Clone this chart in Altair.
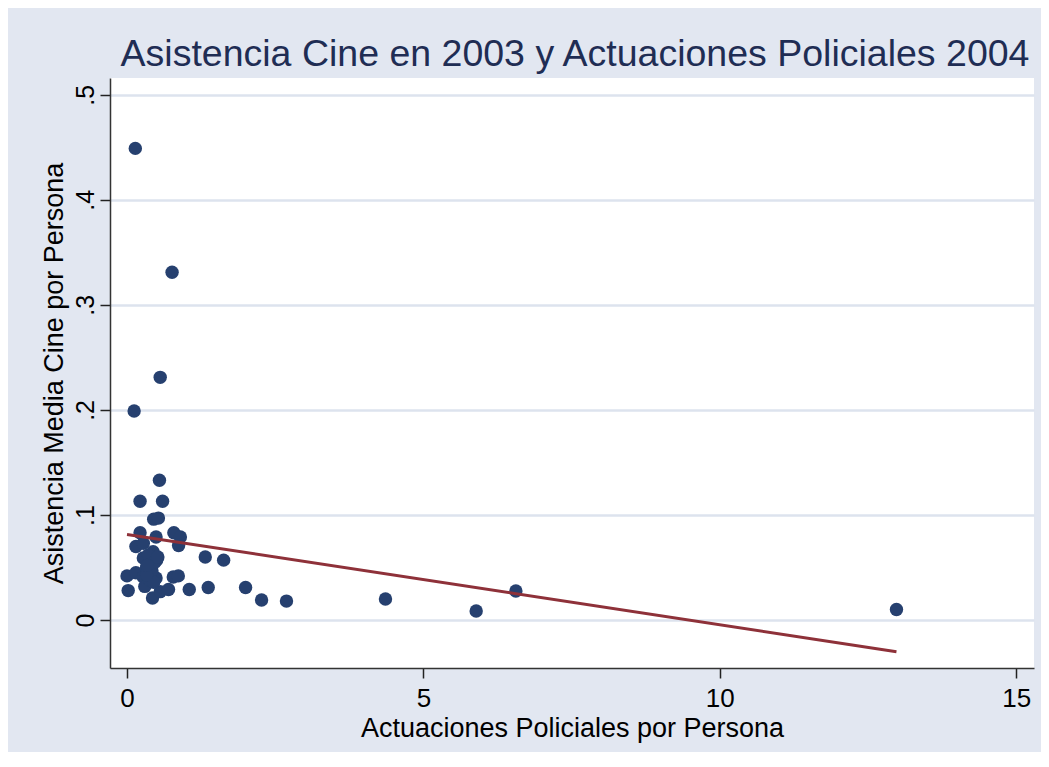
import altair as alt
import pandas as pd

actuaciones = [0.14, 0.76, 0.56, 0.12, 0.547, 0.22, 0.60, 0.45, 0.53, 0.22,
               0.49, 0.79, 0.90, 0.87, 0.15, 0.275, 0.275, 0.44, 0.50, 0.39,
               1.32, 1.63, 0.0, 0.15, 0.275, 0.39, 0.49, 0.78, 0.865, 0.02,
               0.30, 0.43, 0.56, 0.70, 1.05, 1.37, 2.00, 2.27, 2.69, 4.36,
               5.89, 6.56, 12.98,
               0.33, 0.36, 0.42, 0.47, 0.38, 0.45, 0.33, 0.52, 0.34]
asistencia = [0.449, 0.331, 0.231, 0.199, 0.133, 0.113, 0.113, 0.096, 0.097, 0.083,
              0.079, 0.083, 0.079, 0.071, 0.070, 0.073, 0.059, 0.065, 0.057, 0.054,
              0.060, 0.057, 0.042, 0.045, 0.041, 0.044, 0.040, 0.041, 0.042, 0.028,
              0.032, 0.021, 0.027, 0.029, 0.029, 0.031, 0.031, 0.019, 0.018, 0.020,
              0.0086, 0.0276, 0.010,
              0.050, 0.062, 0.047, 0.055, 0.038, 0.036, 0.043, 0.060, 0.052]

y_ticks = [0, 0.1, 0.2, 0.3, 0.4, 0.5]
x_ticks = [0, 5, 10, 15]

df = pd.DataFrame({"x": actuaciones, "y": asistencia})

FONT = "Liberation Sans"

xscale = alt.Scale(domain=[-0.287, 15.3], nice=False, zero=False)
yscale = alt.Scale(domain=[-0.0457, 0.516], nice=False, zero=False)

xaxis = alt.Axis(
    values=x_ticks, grid=False, format="d", title="Actuaciones Policiales por Persona",
    labelFontSize=26, titleFontSize=27, labelFont=FONT, titleFont=FONT,
    titleFontWeight="normal", labelColor="black", titleColor="black",
    tickSize=10, tickColor="#222222", domainColor="#333333", domainWidth=1.5,
    tickWidth=1.5, labelPadding=7, titleY=68, titleBaseline="alphabetic",
)
yaxis = alt.Axis(
    values=y_ticks, grid=True, gridColor="#DDE3EE", gridWidth=2.5,
    title="Asistencia Media Cine por Persona",
    labelExpr="datum.value == 0 ? '0' : replace(format(datum.value, '.1f'), '0.', '.')",
    labelFontSize=25, titleFontSize=27, labelFont=FONT, titleFont=FONT,
    titleFontWeight="normal", labelColor="black", titleColor="black",
    labelAngle=270, labelAlign="center", labelBaseline="bottom", labelPadding=2,
    tickSize=10, tickColor="#222222", domainColor="#333333", domainWidth=1.5,
    tickWidth=1.5, titleAngle=270, titleX=-48, titleY=295, titleAlign="center",
    titleBaseline="alphabetic",
)

base = alt.Chart(df)

points = base.mark_circle(size=180, opacity=1, color="#26406F").encode(
    x=alt.X("x:Q", scale=xscale, axis=xaxis),
    y=alt.Y("y:Q", scale=yscale, axis=yaxis),
)

fit = base.transform_regression("x", "y").mark_line(
    color="#8E3139", strokeWidth=3
).encode(
    x=alt.X("x:Q", scale=xscale),
    y=alt.Y("y:Q", scale=yscale),
)

chart = alt.layer(points, fit).properties(
    width=924, height=590,
    autosize=alt.AutoSizeParams(type="none"),
    padding={"left": 102, "top": 70, "right": 7, "bottom": 84},
    background="#E2E7F1",
    title=alt.TitleParams(
        "Asistencia Cine en 2003 y Actuaciones Policiales 2004",
        font=FONT, fontSize=37.5, fontWeight="normal", color="#1F2D54",
        anchor="middle", dx=3, dy=7, offset=12,
    ),
).configure_view(fill="white", stroke=None)

chart.save("out.html", embed_options={"renderer": "svg", "actions": False})
